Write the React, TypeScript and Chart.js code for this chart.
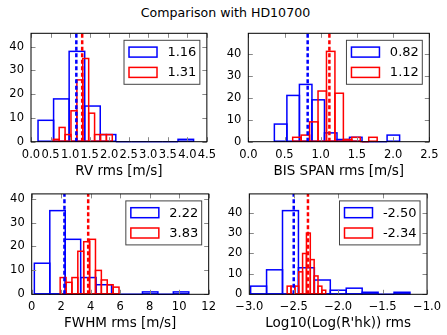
import React, { useEffect, useRef } from "react";
import { Chart, registerables } from "chart.js";

Chart.register(...registerables);

const FONT = "'DejaVu Sans', sans-serif";
const BLUE = "#0000ff";
const RED = "#ff0000";

// ---- Data (histogram counts, bin ranges, means) ----
const rvBlueRange = [0.18, 4.16];
const rvBlueCounts = [9, 18, 38, 15, 3, 0, 0, 0, 0, 1];
const rvRedRange = [0.57, 2.08];
const rvRedCounts = [1, 6, 3, 13, 26, 35, 12, 3, 3, 3];
const rvMeans = [1.16, 1.31];

const bisBlueRange = [0.36, 2.09];
const bisBlueCounts = [8, 21, 26, 19, 4, 1, 2, 0, 0, 3];
const bisRedRange = [0.613, 1.78];
const bisRedCounts = [2, 3, 9, 23, 41, 22, 1, 2, 0, 2];
const bisMeans = [0.82, 1.12];

const fwhmBlueRange = [0.18, 10.65];
const fwhmBlueCounts = [13, 35, 23, 7, 4, 0, 0, 1, 0, 1];
const fwhmRedRange = [1.93, 5.92];
const fwhmRedCounts = [7, 5, 7, 18, 22, 23, 10, 6, 4, 3];
const fwhmMeans = [2.22, 3.83];

const rhkBlueRange = [-2.985, -1.192];
const rhkBlueCounts = [4, 12, 41, 13, 7, 2, 3, 1, 0, 1];
const rhkRedRange = [-2.574, -2.14];
const rhkRedCounts = [4, 4, 4, 11, 20, 30, 17, 9, 4, 2];
const rhkMeans = [-2.5, -2.34];

const titleText = "Comparison with HD10700";
const xLabels = ["RV rms [m/s]", "BIS SPAN rms [m/s]", "FWHM rms [m/s]", "Log10(Log(R'hk)) rms"];
const legendLabels = [["1.16", "1.31"], ["0.82", "1.12"], ["2.22", "3.83"], ["-2.50", "-2.34"]];

function binPoints(range: number[], counts: number[]) {
  const n = counts.length;
  const w = (range[1] - range[0]) / n;
  return counts.map((c, i) => ({ x: range[0] + (i + 0.5) * w, y: c }));
}

type PanelProps = {
  left: number; top: number; width: number; height: number;
  padTop: number; padRight: number; yAxisWidth: number; xAxisHeight: number;
  xMin: number; xMax: number; xStep: number; xFmt: (v: number) => string;
  yStep: number; xLabel: string; titlePadBottom: number;
  blueRange: number[]; blueCounts: number[]; redRange: number[]; redCounts: number[];
  means: number[]; labels: string[];
};

function Panel(p: PanelProps) {
  const ref = useRef<HTMLCanvasElement | null>(null);
  useEffect(() => {
    if (!ref.current) return;
    const yMax = 1.2 * Math.max(...p.blueCounts, ...p.redCounts);
    const colors = [BLUE, RED];

    const histStroke = {
      id: "histStroke",
      afterDatasetsDraw(chart: any) {
        const ctx = chart.ctx;
        const ca = chart.chartArea;
        ctx.save();
        ctx.beginPath();
        ctx.rect(ca.left, ca.top - 1, ca.right - ca.left, ca.bottom - ca.top + 2);
        ctx.clip();
        chart.data.datasets.forEach((ds: any, i: number) => {
          const meta = chart.getDatasetMeta(i);
          ctx.strokeStyle = colors[i];
          ctx.lineWidth = 1.5;
          meta.data.forEach((el: any) => {
            const { x, y, base, width } = el.getProps(["x", "y", "base", "width"], true);
            ctx.strokeRect(x - width / 2, Math.min(y, base), width, Math.abs(base - y));
          });
        });
        ctx.restore();
      },
    };

    const frame = {
      id: "frame",
      afterDraw(chart: any) {
        const ctx = chart.ctx;
        const ca = chart.chartArea;
        const xs = chart.scales.x;
        const ys = chart.scales.y;
        ctx.save();
        // mean lines
        ctx.lineWidth = 2.5;
        ctx.setLineDash([4, 2.5]);
        p.means.forEach((m, i) => {
          const px = xs.getPixelForValue(m);
          ctx.strokeStyle = colors[i];
          ctx.beginPath();
          ctx.moveTo(px, ca.bottom);
          ctx.lineTo(px, ca.top);
          ctx.stroke();
        });
        ctx.setLineDash([]);
        // inward ticks
        ctx.strokeStyle = "#888";
        ctx.lineWidth = 1;
        const L = 4.5;
        xs.ticks.forEach((t: any) => {
          const px = Math.round(xs.getPixelForValue(t.value)) + 0.5;
          ctx.beginPath();
          ctx.moveTo(px, ca.bottom); ctx.lineTo(px, ca.bottom - L);
          ctx.moveTo(px, ca.top); ctx.lineTo(px, ca.top + L);
          ctx.stroke();
        });
        ys.ticks.forEach((t: any) => {
          const py = Math.round(ys.getPixelForValue(t.value)) + 0.5;
          ctx.beginPath();
          ctx.moveTo(ca.left, py); ctx.lineTo(ca.left + L, py);
          ctx.moveTo(ca.right, py); ctx.lineTo(ca.right - L, py);
          ctx.stroke();
        });
        // frame
        ctx.strokeStyle = "#000";
        ctx.lineWidth = 1;
        ctx.strokeRect(ca.left, ca.top, ca.right - ca.left, ca.bottom - ca.top);
        // legend
        ctx.font = `13px ${FONT}`;
        const tw = Math.max(...p.labels.map((l) => ctx.measureText(l).width));
        const w = 5 + 28 + 10.4 + tw + 3.5;
        const h = 44;
        const lx = ca.right - 7 - w;
        const ly = ca.top + 7;
        ctx.fillStyle = "#fff";
        ctx.fillRect(lx, ly, w, h);
        ctx.strokeStyle = "#444";
        ctx.lineWidth = 1;
        ctx.strokeRect(lx, ly, w, h);
        p.labels.forEach((lab, i) => {
          const cy = ly + 11.8 + i * 20.3;
          ctx.strokeStyle = colors[i];
          ctx.lineWidth = 1.5;
          ctx.strokeRect(lx + 5, cy - 5, 28, 10);
          ctx.fillStyle = "#000";
          ctx.textBaseline = "middle";
          ctx.textAlign = "left";
          ctx.fillText(lab, lx + 43.4, cy + 0.5);
        });
        ctx.restore();
      },
    };

    const xTicks = {
      stepSize: p.xStep,
      padding: 6,
      autoSkip: false,
      maxRotation: 0,
      includeBounds: false,
      font: { family: FONT, size: 11.5 },
      color: "#000",
      callback: (v: any) => p.xFmt(Number(v)),
    };

    const chart = new Chart(ref.current, {
      type: "bar",
      data: {
        datasets: [
          {
            data: binPoints(p.blueRange, p.blueCounts) as any,
            xAxisID: "x",
            backgroundColor: "rgba(0,0,0,0)",
            borderWidth: 0,
            grouped: false,
            barPercentage: 1,
            categoryPercentage: 1,
          } as any,
          {
            data: binPoints(p.redRange, p.redCounts) as any,
            xAxisID: "x2",
            backgroundColor: "rgba(0,0,0,0)",
            borderWidth: 0,
            grouped: false,
            barPercentage: 1,
            categoryPercentage: 1,
          } as any,
        ],
      },
      options: {
        animation: false,
        responsive: false,
        maintainAspectRatio: false,
        events: [],
        layout: { padding: { top: p.padTop, right: p.padRight, bottom: 0, left: 0 } },
        plugins: { legend: { display: false }, tooltip: { enabled: false }, title: { display: false } },
        scales: {
          x: {
            type: "linear",
            position: "bottom",
            min: p.xMin,
            max: p.xMax,
            offset: false,
            grid: { display: true, drawOnChartArea: false, drawTicks: false, offset: false, color: "rgba(0,0,0,0)" },
            border: { display: false },
            ticks: xTicks as any,
            title: {
              display: true,
              text: p.xLabel,
              color: "#000",
              font: { family: FONT, size: 13.5 },
              padding: { top: 0, bottom: p.titlePadBottom },
            },
            afterFit: (s: any) => { s.height = p.xAxisHeight; },
          },
          x2: {
            type: "linear",
            display: false,
            min: p.xMin,
            max: p.xMax,
            offset: false,
            ticks: { stepSize: p.xStep, includeBounds: false } as any,
          },
          y: {
            type: "linear",
            min: 0,
            max: yMax,
            grid: { display: true, drawOnChartArea: false, drawTicks: false, color: "rgba(0,0,0,0)" },
            border: { display: false },
            ticks: {
              stepSize: p.yStep,
              padding: 7,
              includeBounds: false,
              font: { family: FONT, size: 11.5 },
              color: "#000",
              callback: (v: any) => String(Math.round(Number(v))),
            } as any,
            afterFit: (s: any) => { s.width = p.yAxisWidth; },
          },
        },
      } as any,
      plugins: [histStroke, frame],
    });
    return () => chart.destroy();
  }, []);
  return (
    <canvas
      ref={ref}
      width={p.width}
      height={p.height}
      style={{ position: "absolute", left: p.left, top: p.top, width: p.width, height: p.height }}
    />
  );
}

const fmt1 = (v: number) => v.toFixed(1);
const fmtInt = (v: number) => String(Math.round(v));
const fmtNeg = (v: number) => v.toFixed(1).replace("-", "\u2212");

export default function App() {
  return (
    <div style={{ position: "fixed", left: 0, top: 0, width: 447, height: 335, background: "#fff", overflow: "hidden" }}>
      <div
        style={{
          position: "absolute", left: 2, top: 5, width: 447, textAlign: "center",
          fontFamily: FONT, fontSize: 12.6, lineHeight: "15px", color: "#000",
        }}
      >
        {titleText}
      </div>
      <Panel
        left={0} top={0} width={222} height={180} padTop={33.3} padRight={10}
        yAxisWidth={31} xAxisHeight={38.3} titlePadBottom={0.5}
        xMin={0} xMax={4.5} xStep={0.5} xFmt={fmt1} yStep={10} xLabel={xLabels[0]}
        blueRange={rvBlueRange} blueCounts={rvBlueCounts} redRange={rvRedRange} redCounts={rvRedCounts}
        means={rvMeans} labels={legendLabels[0]}
      />
      <Panel
        left={222} top={0} width={225} height={180} padTop={33.3} padRight={17.7}
        yAxisWidth={26.3} xAxisHeight={38.3} titlePadBottom={0.5}
        xMin={0} xMax={2.5} xStep={0.5} xFmt={fmt1} yStep={10} xLabel={xLabels[1]}
        blueRange={bisBlueRange} blueCounts={bisBlueCounts} redRange={bisRedRange} redCounts={bisRedCounts}
        means={bisMeans} labels={legendLabels[1]}
      />
      <Panel
        left={0} top={180} width={222} height={155} padTop={5.3} padRight={10}
        yAxisWidth={31.7} xAxisHeight={40.7} titlePadBottom={3.5}
        xMin={0} xMax={12} xStep={2} xFmt={fmtInt} yStep={5} xLabel={xLabels[2]}
        blueRange={fwhmBlueRange} blueCounts={fwhmBlueCounts} redRange={fwhmRedRange} redCounts={fwhmRedCounts}
        means={fwhmMeans} labels={legendLabels[2]}
      />
      <Panel
        left={222} top={180} width={225} height={155} padTop={5.3} padRight={17.7}
        yAxisWidth={27.3} xAxisHeight={40.7} titlePadBottom={3.5}
        xMin={-3} xMax={-1} xStep={0.5} xFmt={fmtNeg} yStep={10} xLabel={xLabels[3]}
        blueRange={rhkBlueRange} blueCounts={rhkBlueCounts} redRange={rhkRedRange} redCounts={rhkRedCounts}
        means={rhkMeans} labels={legendLabels[3]}
      />
    </div>
  );
}
